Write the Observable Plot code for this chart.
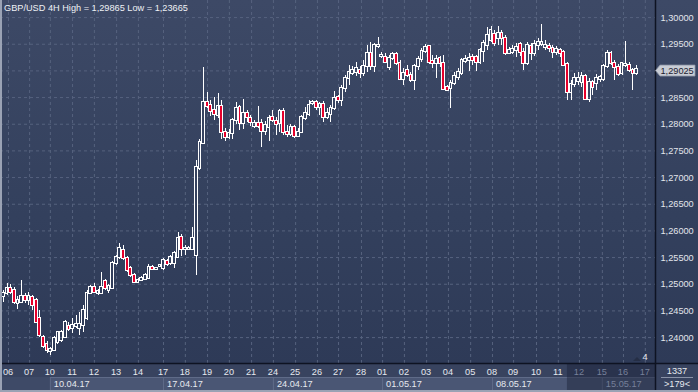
<!DOCTYPE html>
<html><head><meta charset="utf-8">
<script src="https://cdn.jsdelivr.net/npm/d3@7"></script>
<script src="https://cdn.jsdelivr.net/npm/@observablehq/plot@0.6"></script>
<style>
html,body{margin:0;padding:0;background:#2f3b57;}
#chart{width:698px;height:392px;overflow:hidden;}
#chart svg{display:block;}
</style>
</head><body><div id="chart"></div>
<script>
const titleText = "GBP/USD 4H High = 1,29865 Low = 1,23665";
const opens = [
1.2477,1.24826,1.2492,1.24883,1.24639,1.24658,1.2477,1.24695,1.24751,1.24695,
1.24358,1.24001,1.2387,1.23739,1.23758,1.23908,1.23945,1.24001,1.24208,1.2417,
1.24208,1.2417,1.24226,1.24358,1.24826,1.24939,1.24826,1.24826,1.25051,1.24883,
1.2492,1.25389,1.25501,1.25633,1.25483,1.25295,1.25164,1.25033,1.2507,1.25089,
1.25108,1.25314,1.25276,1.25333,1.25295,1.25426,1.25389,1.25389,1.25501,1.25876,
1.25651,1.25651,1.25651,1.25539,1.2717,1.27639,1.28408,1.28351,1.28258,1.28164,
1.28333,1.27845,1.27751,1.27826,1.2807,1.28314,1.28014,1.28201,1.28108,1.27958,
1.28014,1.28014,1.27864,1.27939,1.28126,1.28051,1.28014,1.28239,1.27845,1.27808,
1.27939,1.2777,1.27845,1.28108,1.28183,1.28389,1.28408,1.28314,1.2837,1.28126,
1.28183,1.28295,1.28501,1.28445,1.2867,1.28858,1.28951,1.2897,1.29008,1.28951,
1.29083,1.29326,1.29083,1.29458,1.2927,1.29251,1.29064,1.29233,1.29308,1.29139,
1.28839,1.29008,1.28914,1.2882,1.29083,1.29214,1.29364,1.29458,1.29176,1.29139,
1.29233,1.29139,1.28689,1.2867,1.28764,1.28876,1.28951,1.29176,1.29195,1.29251,
1.29251,1.29158,1.29364,1.29476,1.2957,1.29683,1.29608,1.29701,1.29608,1.29326,
1.29345,1.29383,1.29495,1.29345,1.29139,1.29458,1.29326,1.29476,1.29495,1.29439,
1.29458,1.2942,1.29345,1.29383,1.29345,1.2912,1.28595,1.28745,1.28801,1.28783,
1.28895,1.28464,1.28783,1.28764,1.28839,1.28839,1.29083,1.29326,1.29139,1.29064,
1.28951,1.29101,1.29101,1.29008,1.28951];
const highs = [
1.24883,1.25014,1.24995,1.24939,1.2477,1.2507,1.24826,1.24845,1.24789,1.24733,
1.24508,1.24039,1.23926,1.23814,1.2402,1.24114,1.24133,1.2432,1.24283,1.24358,
1.24414,1.2447,1.24601,1.24883,1.24976,1.25014,1.24901,1.2522,1.25089,1.24995,
1.25426,1.25539,1.25764,1.25726,1.2552,1.25333,1.25201,1.25108,1.25145,1.25201,
1.2537,1.25351,1.25314,1.2537,1.25483,1.25464,1.25539,1.25614,1.2597,1.25933,
1.25726,1.25708,1.26064,1.2732,1.27714,1.29064,1.28595,1.28445,1.28501,1.28576,
1.28445,1.2792,1.27901,1.28108,1.28408,1.28351,1.28464,1.28258,1.28164,1.2807,
1.28333,1.28089,1.28051,1.28164,1.28258,1.28126,1.28276,1.28295,1.27976,1.27995,
1.27976,1.2792,1.28164,1.28314,1.28445,1.28445,1.28445,1.28408,1.28426,1.28295,
1.28351,1.28614,1.28539,1.28726,1.28914,1.29101,1.29083,1.29158,1.29083,1.29195,
1.29476,1.29533,1.29514,1.29626,1.29345,1.29326,1.29289,1.29345,1.29345,1.29195,
1.29045,1.29101,1.2897,1.2912,1.2927,1.2942,1.29495,1.29476,1.29289,1.29289,
1.2927,1.29289,1.28726,1.2882,1.2897,1.29045,1.29233,1.29289,1.29326,1.29308,
1.29289,1.2942,1.2957,1.29814,1.29833,1.29758,1.29833,1.29758,1.29664,1.29439,
1.29476,1.29514,1.29533,1.2942,1.29533,1.29514,1.2957,1.29608,1.29865,1.2957,
1.29514,1.29476,1.29458,1.2942,1.29383,1.29158,1.2882,1.28951,1.2897,1.2897,
1.28933,1.28858,1.2882,1.28933,1.28914,1.2912,1.29383,1.29364,1.29195,1.2912,
1.29158,1.29551,1.29158,1.29045,1.29101];
const lows = [
1.24658,1.24789,1.24808,1.2462,1.24526,1.24639,1.24639,1.24601,1.24508,1.24264,
1.24001,1.23795,1.23701,1.23664,1.23739,1.2387,1.23908,1.23983,1.24114,1.24076,
1.2417,1.24039,1.24095,1.2432,1.24808,1.24826,1.24789,1.24808,1.24883,1.24826,
1.24901,1.25351,1.25464,1.25445,1.2522,1.25126,1.25014,1.25014,1.25051,1.2507,
1.25089,1.25258,1.25258,1.25333,1.25258,1.25333,1.25351,1.25295,1.25483,1.2552,
1.25539,1.25633,1.25633,1.25164,1.27133,1.2762,1.28295,1.28145,1.2807,1.28108,
1.27714,1.27676,1.27714,1.27714,1.27995,1.27883,1.27901,1.28033,1.27958,1.2792,
1.2792,1.27564,1.27789,1.27676,1.28033,1.27789,1.27845,1.27789,1.27751,1.2777,
1.27733,1.27751,1.27826,1.2807,1.28145,1.28351,1.28258,1.28164,1.28033,1.28089,
1.28033,1.28258,1.28389,1.28333,1.28595,1.28726,1.28914,1.28895,1.28858,1.28895,
1.2897,1.29008,1.2897,1.2942,1.29233,1.29139,1.29008,1.29195,1.29101,1.2882,
1.28726,1.28876,1.28783,1.28633,1.29008,1.29158,1.29326,1.2912,1.29045,1.28858,
1.29064,1.28633,1.28614,1.28295,1.28726,1.2882,1.28914,1.29139,1.28989,1.29101,
1.28989,1.2912,1.29158,1.29383,1.29533,1.29458,1.29476,1.29476,1.29289,1.29308,
1.29308,1.29251,1.2927,1.29008,1.29101,1.29195,1.2927,1.29383,1.29458,1.29383,
1.29345,1.29233,1.29289,1.29251,1.29083,1.28445,1.28445,1.28689,1.28726,1.28689,
1.28445,1.28408,1.28539,1.28633,1.28783,1.28801,1.29045,1.29101,1.2882,1.28895,
1.28914,1.29064,1.2897,1.28633,1.28914];
const closes = [
1.24826,1.2492,1.24845,1.24658,1.24695,1.2477,1.24695,1.2477,1.24601,1.24283,
1.24039,1.23833,1.23758,1.23776,1.23983,1.24095,1.24095,1.24283,1.24151,1.24226,
1.24245,1.24245,1.24508,1.24826,1.24939,1.24845,1.24864,1.24939,1.2492,1.24958,
1.25389,1.25501,1.2567,1.25483,1.25258,1.25164,1.25033,1.2507,1.25108,1.25164,
1.25314,1.25276,1.25295,1.25351,1.25445,1.2537,1.25501,1.25576,1.25858,1.25651,
1.2567,1.2567,1.25858,1.27189,1.27658,1.28408,1.28333,1.28239,1.28183,1.28333,
1.27845,1.27751,1.27826,1.2807,1.28295,1.28014,1.28201,1.28126,1.28033,1.28014,
1.27958,1.27864,1.27976,1.28108,1.2807,1.27995,1.28239,1.27845,1.27808,1.27939,
1.2777,1.27845,1.28126,1.28201,1.28351,1.28408,1.28314,1.2837,1.28126,1.28201,
1.28295,1.28483,1.28445,1.2867,1.28858,1.2897,1.29008,1.29045,1.28951,1.29083,
1.29326,1.29083,1.29476,1.29476,1.29289,1.29158,1.29233,1.29308,1.29139,1.28839,
1.28951,1.28914,1.2882,1.29083,1.29214,1.29364,1.29439,1.29158,1.29139,1.29214,
1.29139,1.28651,1.28633,1.28764,1.28895,1.2897,1.29195,1.29214,1.29233,1.29195,
1.29158,1.29383,1.29514,1.29664,1.29758,1.29514,1.29701,1.29608,1.29326,1.29383,
1.29401,1.29439,1.29345,1.29139,1.29476,1.29326,1.29495,1.29533,1.29533,1.29476,
1.2942,1.29345,1.29401,1.29326,1.29101,1.28595,1.28745,1.28858,1.28858,1.28895,
1.28464,1.28783,1.28689,1.28858,1.28876,1.29083,1.29326,1.29139,1.29064,1.28933,
1.29139,1.2912,1.29008,1.28951,1.29025];
const dayLabels = ["06","07","10","11","12","13","14","17","18","19","20","21","24","25","26","27","28",
  "01","02","03","04","05","08","09","10","11","12","15","16","17"];
const dayPos = [1.4,7.2,12.9,19.0,25.0,31.1,37.1,44.0,50.0,56.1,62.1,68.2,74.2,80.3,86.3,92.1,98.4,
  104.2,110.2,116.3,122.3,128.4,134.4,140.2,146.5,152.5,158.3,164.6,170.4,176.4];
const weekLabels = ["10.04.17","17.04.17","24.04.17","01.05.17","08.05.17","15.05.17"];
const weekPos = [12.9,44.0,74.2,104.2,134.4,164.6];
const priceTicks = [1.30,1.295,1.285,1.28,1.275,1.27,1.265,1.26,1.255,1.25,1.245,1.24];
const gridPrices = [1.30,1.295,1.29,1.285,1.28,1.275,1.27,1.265,1.26,1.255,1.25,1.245,1.24];
const lastPrice = 1.29025;
const scrollStart = 155;   // start of the darker scroll region on the time axis (candle index)
const barCountText = "1337";
const visibleText = ">179<";

const candles = opens.map((o, i) => ({
  i, o, h: highs[i], l: lows[i], c: closes[i],
  top: Math.max(o, closes[i]), bot: Math.min(o, closes[i]), up: closes[i] >= o
}));
const fmt = d => d.toFixed(5).replace(".", ",");
const W = 0.38;
const FONT = "'Liberation Sans', Arial, sans-serif";

const plot = Plot.plot({
  width: 698, height: 392,
  marginTop: 0, marginRight: 43, marginBottom: 29, marginLeft: 0,
  x: {domain: [-0.8, 179.2], axis: null},
  y: {domain: [1.23514, 1.3032], axis: null},
  style: {background: "linear-gradient(180deg,#3d4966 0%,#33405d 55%,#2d3956 100%)", fontFamily: FONT, fontSize: "9.2px", color: "#e3e6ec", overflow: "visible"},
  marks: [
    Plot.gridY(gridPrices, {stroke: "#56627e", strokeOpacity: 1, strokeDasharray: "3,3"}),
    Plot.gridX(dayPos, {stroke: "#56627e", strokeOpacity: 1, strokeDasharray: "3,3"}),
    Plot.ruleX(candles, {x: "i", y1: "top", y2: "h", stroke: "#ffffff", strokeWidth: 1, shapeRendering: "crispEdges"}),
    Plot.ruleX(candles, {x: "i", y1: "l", y2: "bot", stroke: "#ffffff", strokeWidth: 1, shapeRendering: "crispEdges"}),
    Plot.rect(candles.filter(d => d.up), {x1: d => d.i - W, x2: d => d.i + W, y1: "bot", y2: "top", insetTop: -0.5, insetBottom: -0.5, fill: "none", stroke: "#ffffff", strokeWidth: 1, shapeRendering: "crispEdges"}),
    Plot.rect(candles.filter(d => !d.up), {x1: d => d.i - W, x2: d => d.i + W, y1: "bot", y2: "top", insetTop: -0.5, insetBottom: -0.5, fill: "#e5002b", stroke: "#ffffff", strokeWidth: 1, shapeRendering: "crispEdges"}),
    Plot.axisY(priceTicks, {anchor: "right", tickSize: 0, tickPadding: 5, tickFormat: fmt, fill: "#e3e6ec", fontSize: 9.2})
  ]
});
document.getElementById("chart").appendChild(plot);

const xs = plot.scale("x"), ys = plot.scale("y");
const svg = d3.select(plot);
const g = svg.append("g").attr("font-family", FONT).attr("font-size", 9.2).attr("text-anchor", "start");
const plotR = 655, plotB = 363;

// bottom time axis
g.append("rect").attr("x", 0).attr("y", plotB).attr("width", plotR).attr("height", 392 - plotB).attr("fill", "#38435f");
g.append("rect").attr("x", 0).attr("y", 377).attr("width", xs.apply(weekPos[0])).attr("height", 14).attr("fill", "#3e4a67");
weekPos.forEach((w, k) => {
  const x0 = xs.apply(w);
  const x1 = k + 1 < weekPos.length ? xs.apply(weekPos[k + 1]) : plotR;
  g.append("rect").attr("x", x0 + 0.5).attr("y", 377.5).attr("width", x1 - x0).attr("height", 13.5)
    .attr("fill", "#4a5674").attr("stroke", "#5f6b88").attr("stroke-width", 1);
});
g.append("rect").attr("x", xs.apply(scrollStart)).attr("y", plotB).attr("width", plotR - xs.apply(scrollStart)).attr("height", 392 - plotB)
  .attr("fill", "#1a2238").attr("fill-opacity", 0.45);
dayLabels.forEach((t, k) => {
  g.append("text").attr("x", xs.apply(dayPos[k])).attr("y", 372).attr("dy", "0.35em").attr("text-anchor", "middle")
    .attr("fill", dayPos[k] >= scrollStart ? "#76809a" : "#e6e9ef").text(t);
});
weekLabels.forEach((t, k) => {
  g.append("text").attr("x", xs.apply(weekPos[k]) + 4).attr("y", 384).attr("dy", "0.35em").attr("text-anchor", "start")
    .attr("fill", weekPos[k] >= scrollStart ? "#76809a" : "#e6e9ef").text(t);
});

// right-bottom info box
g.append("rect").attr("x", plotR).attr("y", plotB).attr("width", 698 - plotR).attr("height", 392 - plotB).attr("fill", "#38435f");
g.append("text").attr("x", 677).attr("y", 371).attr("dy", "0.35em").attr("text-anchor", "middle").attr("fill", "#e6e9ef").text(barCountText);
g.append("line").attr("x1", 661).attr("x2", 693).attr("y1", 377.5).attr("y2", 377.5).attr("stroke", "#8a93a8");
g.append("text").attr("x", 677).attr("y", 384).attr("dy", "0.35em").attr("text-anchor", "middle").attr("fill", "#e6e9ef").text(visibleText);

// frame lines
g.append("line").attr("x1", 0).attr("x2", 698).attr("y1", plotB + 0.5).attr("y2", plotB + 0.5).attr("stroke", "#0e1322").attr("stroke-width", 1.5);
g.append("line").attr("x1", plotR + 0.5).attr("x2", plotR + 0.5).attr("y1", 0).attr("y2", 392).attr("stroke", "#0e1322").attr("stroke-width", 1.5);
g.append("rect").attr("x", 0).attr("y", 0).attr("width", 2).attr("height", 392).attr("fill", "#9aa2b4");
g.append("rect").attr("x", 0).attr("y", 390).attr("width", 698).attr("height", 2).attr("fill", "#9aa2b4");

// last price tag
const yl = ys.apply(lastPrice) + 1.5;
g.append("path").attr("d", `M655.5,${yl} L660,${yl - 5.5} L695,${yl - 5.5} L695,${yl + 5.5} L660,${yl + 5.5} Z`)
  .attr("fill", "#c9cdd5").attr("stroke", "#8c94a6").attr("stroke-width", 0.8);
g.append("text").attr("x", 660.5).attr("y", yl).attr("dy", "0.35em").attr("text-anchor", "start").attr("fill", "#1b2030").text(fmt(lastPrice));

// small counter inside plot area
g.append("path").attr("d", "M633,361 L637,357 L641,361 Z").attr("fill", "#252e45");
g.append("text").attr("x", 645).attr("y", 357).attr("dy", "0.35em").attr("text-anchor", "middle").attr("fill", "#e6e9ef").text("4");

// title
g.append("text").attr("x", 4).attr("y", 7.5).attr("dy", "0.35em").attr("text-anchor", "start").attr("fill", "#eef1f5").text(titleText);
</script>
</body></html>
